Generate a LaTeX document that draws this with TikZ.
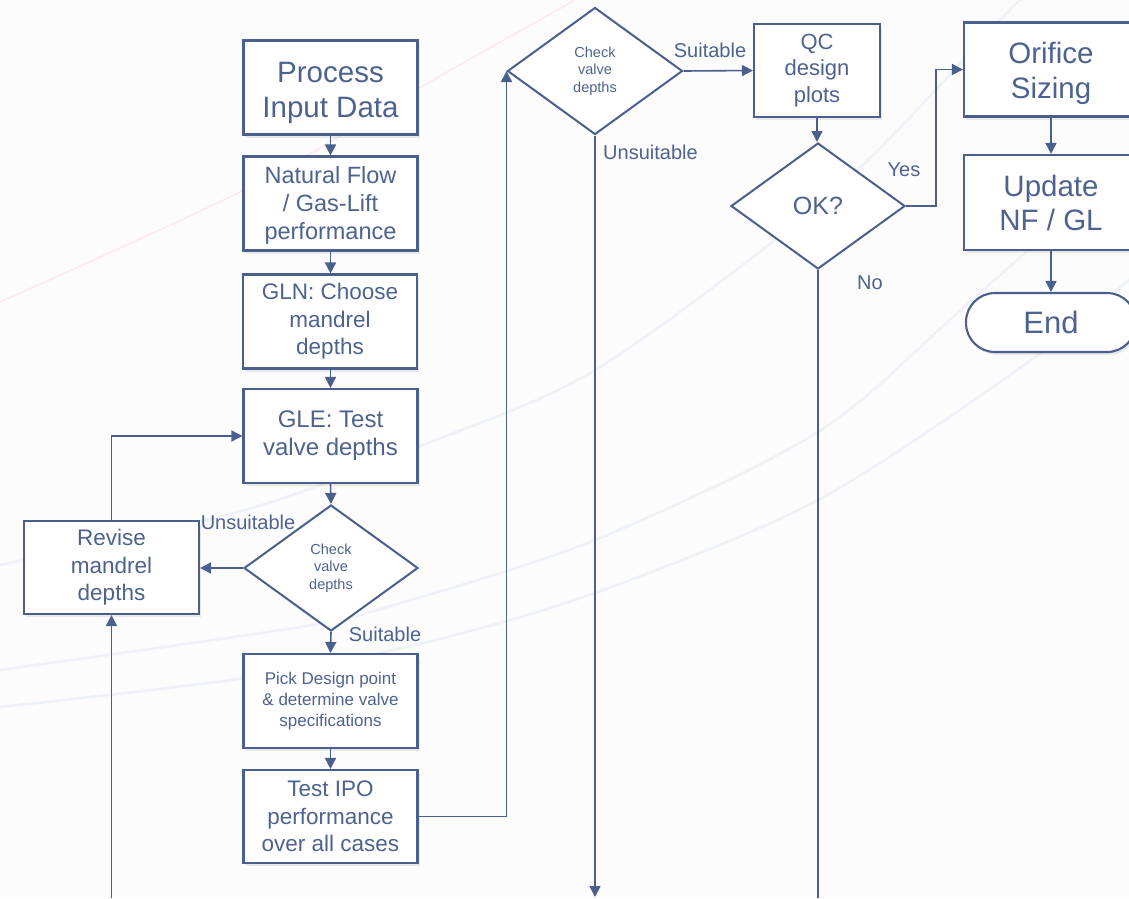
\documentclass[tikz,border=0pt]{standalone}
\usepackage{fontspec}
\setmainfont{Liberation Sans}
\usetikzlibrary{shapes.geometric,shadows,arrows.meta}
\definecolor{fc}{RGB}{74,95,142}
\definecolor{tc}{RGB}{78,98,143}
\definecolor{bgc}{RGB}{252,252,253}
\definecolor{arcc}{RGB}{238,241,247}
\definecolor{pinkc}{RGB}{252,234,236}
\begin{document}
\begin{tikzpicture}[x=1pt,y=-1pt,
  box/.style={draw=fc,line width=2.1pt,fill=white,text=tc,align=center,inner sep=0pt,
    minimum width=174pt,minimum height=94pt,
    drop shadow={opacity=0.16,shadow xshift=2pt,shadow yshift=-3pt}},
  dia/.style={diamond,draw=fc,line width=2pt,fill=white,text=tc,align=center,inner sep=0pt,
    minimum width=174pt,minimum height=126pt},
  arr/.style={draw=fc,line width=1.6pt,-{Triangle[length=11pt,width=11pt]}},
  ln/.style={draw=fc,line width=1.6pt},
  lab/.style={text=tc,inner sep=0pt,font=\fontsize{20}{24}\selectfont},
  bgline/.style={draw=arcc,line width=2.5pt},
  fA/.style={font=\fontsize{29.5}{35}\selectfont},
  fB/.style={font=\fontsize{23.5}{28}\selectfont},
  fC/.style={font=\fontsize{22.5}{27.5}\selectfont},
  fD/.style={font=\fontsize{14.5}{17.5}\selectfont},
  fE/.style={font=\fontsize{17}{21}\selectfont}
]
\useasboundingbox (0,0) rectangle (1129,898);
\fill[bgc] (0,0) rectangle (1129,898);
\begin{scope}
\clip (0,0) rectangle (1129,898);
% faint background curves
\draw[draw=pinkc,line width=1.5pt] plot[smooth] coordinates {(0,302) (250,187) (428,83) (575,0)};
\draw[bgline] plot[smooth] coordinates {(0,565) (245,510) (428,443) (600,367) (836,190) (1000,20) (1020,0)};
\draw[bgline] plot[smooth] coordinates {(0,670) (300,627) (394,605) (595,540) (818,432) (964,307) (1140,150)};
\draw[bgline] plot[smooth] coordinates {(0,707) (245,678) (423,643) (595,593) (818,500) (1031,360) (1140,270)};
\end{scope}

% left column
\node[box,fA] (pid) at (330.5,87.5) {\rule{0pt}{31pt}Process\\Input Data};
\node[box,fB] (nf) at (330.5,203.5) {\rule{0pt}{21pt}Natural Flow\\/ Gas-Lift\\performance};
\node[box,fC] (gln) at (330,321.5) {GLN: Choose\\mandrel\\depths};
\node[box,font=\fontsize{24}{28}\selectfont] (gle) at (330.5,436) {GLE: Test\\valve depths};
\node[dia,fD] (d1) at (331,568) {Check\\valve\\depths};
\node[box,fC,minimum width=175pt,minimum height=93pt] (rev) at (111.5,567.5) {Revise\\mandrel\\depths};
\node[box,fE] (pick) at (330.5,701) {Pick Design point\\\& determine valve\\specifications};
\node[box,fC,minimum height=93pt] (ipo) at (330.5,816.5) {Test IPO\\performance\\over all cases};

% middle / right
\node[dia,fD,minimum width=175pt,minimum height=127pt] (d2) at (595,71) {Check\\valve\\depths};
\node[box,font=\fontsize{22}{26.5}\selectfont,minimum width=126pt,minimum height=93pt] (qc) at (817,70.5) {QC\\design\\plots};
\node[dia,font=\fontsize{25}{30}\selectfont] (ok) at (818,206) {OK?};
\node[box,fA] (orf) at (1051,69.5) {\rule{0pt}{30pt}Orifice\\Sizing};
\node[box,font=\fontsize{29.5}{34}\selectfont,minimum height=95pt] (upd) at (1051,202.5) {Update\\NF / GL};
\node[box,font=\fontsize{31}{36}\selectfont,minimum width=170pt,minimum height=59pt,rounded corners=29pt] (end) at (1051,322.5) {End};

% coordinates for free ends
\coordinate (revstart) at (111.5,898);
\coordinate (d2end) at (595,897);
\coordinate (okend) at (818,898);

% connectors
\draw[arr] (pid.south) -- (nf.north);
\draw[arr] (nf.south) -- (nf.south |- gln.north);
\draw[arr] (gln.south) -- (gln.south -| gle.north) -- (gle.north);
\draw[arr] (gle.south) -- (d1.north);
\draw[arr] (d1.south) -- (pick.north);
\draw[arr] (pick.south) -- (ipo.north);
\draw[arr] (d1.west) -- (d1.west -| rev.east);
\draw[arr] (rev.north) |- (gle.west);
\draw[arr] (revstart) -- (rev.south);
\draw[arr] (ipo.east) -| (d2.west);
\draw[arr] (d2.east) -- (qc.west);
\draw[arr] (d2.south) -- (d2end);
\draw[arr] (qc.south) -- (qc.south |- ok.north);
\draw[arr] (ok.east) -- ++(30,0) |- (orf.west);
\draw[ln] (ok.south) -- (okend);
\draw[arr] (orf.south) -- (upd.north);
\draw[arr] (upd.south) -- (end.north);

% labels
\node[lab] (l1) at (710,50) {Suitable};
\node[lab,anchor=west] (l2) at (603,152) {Unsuitable};
\node[lab] (l3) at (904,170) {Yes};
\node[lab] (l4) at (870,283) {No};
\node[lab] (l5) at (248,522) {Unsuitable};
\node[lab] (l6) at (385,634) {Suitable};
\end{tikzpicture}
\end{document}
